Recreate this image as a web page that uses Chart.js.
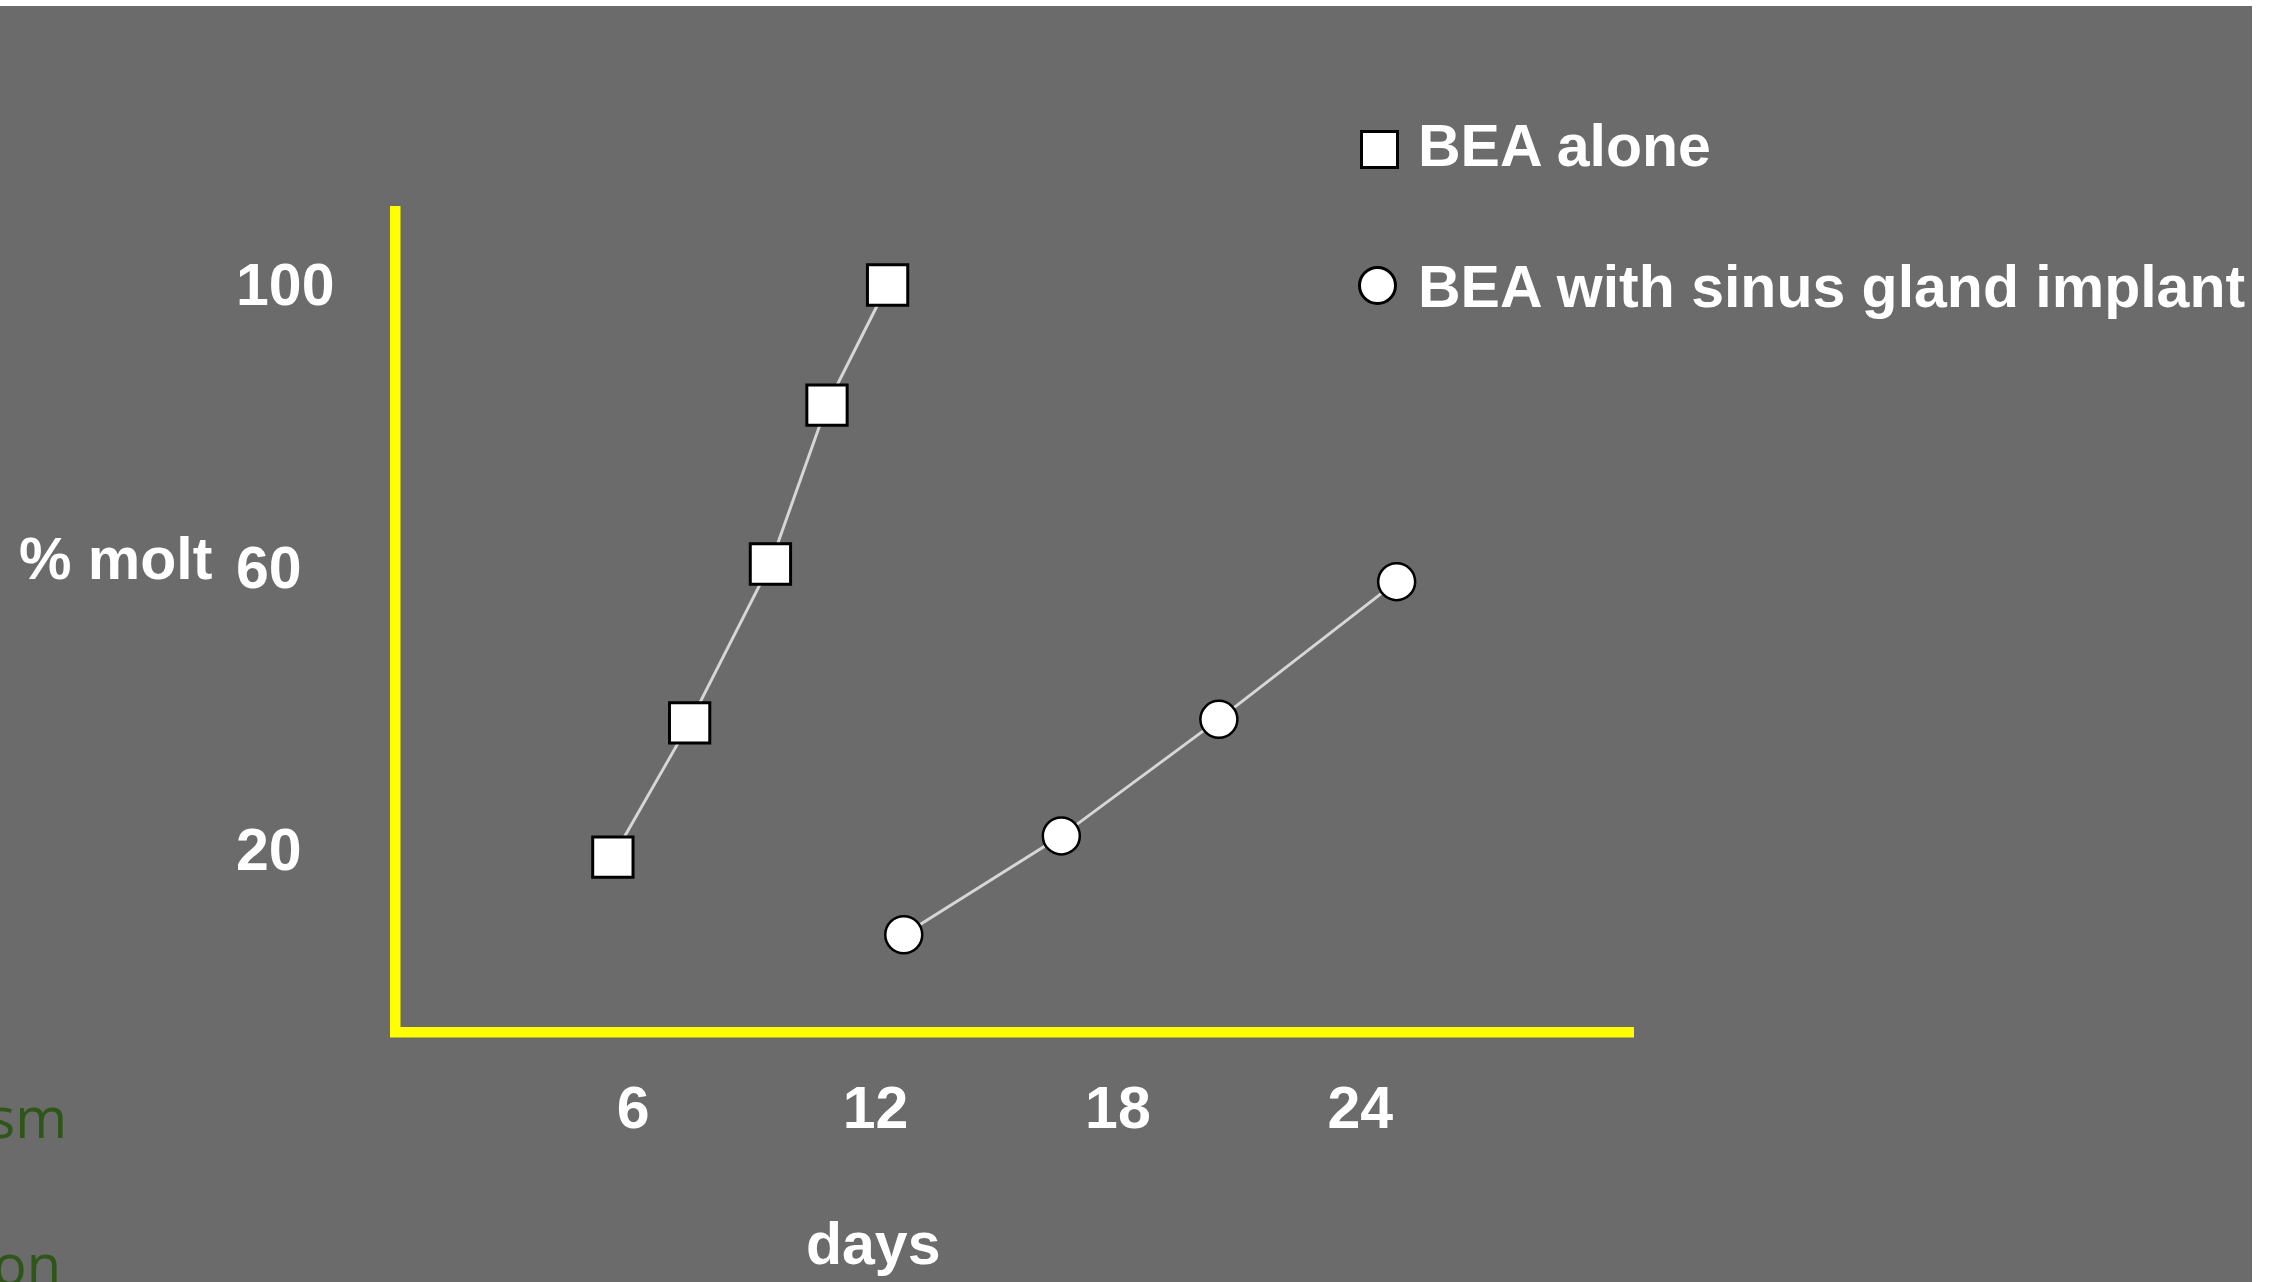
<!DOCTYPE html>
<html>
<head>
<meta charset="utf-8">
<script src="https://cdn.jsdelivr.net/npm/chart.js@4.4.1/dist/chart.umd.min.js"></script>
<style>
  html, body { margin: 0; padding: 0; background: #fff; }
  body { position: relative; width: 2278px; height: 1282px; overflow: hidden; font-family: "Liberation Sans", Arial, sans-serif; }
  #slide { position: absolute; left: 0; top: 6px; width: 2252px; height: 1276px; background: #6b6b6b; }
  #chart { position: absolute; left: 0; top: 0; }
  .label { position: absolute; color: #fff; font-weight: bold; font-size: 59px; line-height: 70px; white-space: nowrap; }
  .green { position: absolute; color: #2f5619; font-family: "Open Sans", sans-serif; font-size: 56px; line-height: 56px; white-space: nowrap; }
  .marker { position: absolute; box-sizing: border-box; width: 39px; height: 39px; background: #fff; border: 3px solid #000; }
</style>
</head>
<body>
<div id="slide"></div>
<div class="green" style="right: 2211px; top: 1088px;">sm</div>
<div class="green" style="right: 2217px; top: 1235px;">on</div>
<canvas id="chart" width="2278" height="1282"></canvas>
<div class="label" style="left: 19px; top: 524px;">% molt</div>
<div class="label" style="left: 806px; top: 1209px;">days</div>
<div id="legend"></div>
<script>
// Data
const seriesLabels = ["BEA alone", "BEA with sinus gland implant"]
const aloneDays = [5.5, 7.4, 9.4, 10.8, 12.3]
const aloneMolt = [19, 38, 60.5, 83, 100]
const implantDays = [12.7, 16.6, 20.5, 24.9]
const implantMolt = [8, 22, 38.5, 58]
const dayTicks = [6, 12, 18, 24]
const moltTicks = [20, 60, 100]

const font = { family: "'Liberation Sans', Arial, sans-serif", size: 59, weight: "bold" }

const toPoints = (xs, ys) => xs.map((x, i) => ({ x: x, y: ys[i] }))

const chart = new Chart(document.getElementById("chart"), {
  type: "line",
  data: {
    datasets: [
      {
        label: seriesLabels[0],
        data: toPoints(aloneDays, aloneMolt),
        borderColor: "#d6d6d6",
        borderWidth: 3,
        pointStyle: "rect",
        pointRadius: 28.5,
        pointBackgroundColor: "#fff",
        pointBorderColor: "#000",
        pointBorderWidth: 3,
      },
      {
        label: seriesLabels[1],
        data: toPoints(implantDays, implantMolt),
        borderColor: "#d6d6d6",
        borderWidth: 3,
        pointStyle: "circle",
        pointRadius: 18.5,
        pointBackgroundColor: "#fff",
        pointBorderColor: "#000",
        pointBorderWidth: 2.5,
      },
    ],
  },
  options: {
    responsive: false,
    animation: false,
    // left padding puts the y labels' left edge where the original has it
    layout: { padding: { top: 211, right: 645, bottom: 0, left: 236 } },
    plugins: { legend: { display: false }, tooltip: { enabled: false } },
    scales: {
      x: {
        type: "linear",
        min: 0.12,
        max: 30.75,
        afterFit: (s) => { s.height = 249.5 },
        afterBuildTicks: (s) => { s.ticks = dayTicks.map((v) => ({ value: v })) },
        grid: { display: false, drawTicks: false },
        border: { display: true, color: "#ffff00", width: 10.5 },
        ticks: { color: "#fff", font: font, padding: 44, maxRotation: 0, autoSkip: false },
      },
      y: {
        type: "linear",
        min: -5.84,
        max: 110.48,
        afterFit: (s) => { s.width = 159.5 },
        afterBuildTicks: (s) => { s.ticks = moltTicks.map((v) => ({ value: v })) },
        grid: { display: false, drawTicks: false },
        border: { display: true, color: "#ffff00", width: 10.5 },
        ticks: { color: "#fff", font: font, padding: 40, crossAlign: "far", labelOffset: 4 },
      },
    },
  },
})

// Legend (drawn as HTML so it can sit over the plot like the original)
const legend = document.getElementById("legend")
const legendRows = [
  { markerLeft: 1360, markerTop: 130, textTop: 111, round: false },
  { markerLeft: 1358, markerTop: 266, textTop: 252, round: true },
]
chart.data.datasets.forEach((ds, i) => {
  const row = legendRows[i]
  const m = document.createElement("div")
  m.className = "marker"
  m.style.left = row.markerLeft + "px"
  m.style.top = row.markerTop + "px"
  if (row.round) m.style.borderRadius = "50%"
  legend.appendChild(m)
  const t = document.createElement("div")
  t.className = "label"
  t.style.left = "1418px"
  t.style.top = row.textTop + "px"
  t.textContent = ds.label
  legend.appendChild(t)
})
</script>
</body>
</html>
